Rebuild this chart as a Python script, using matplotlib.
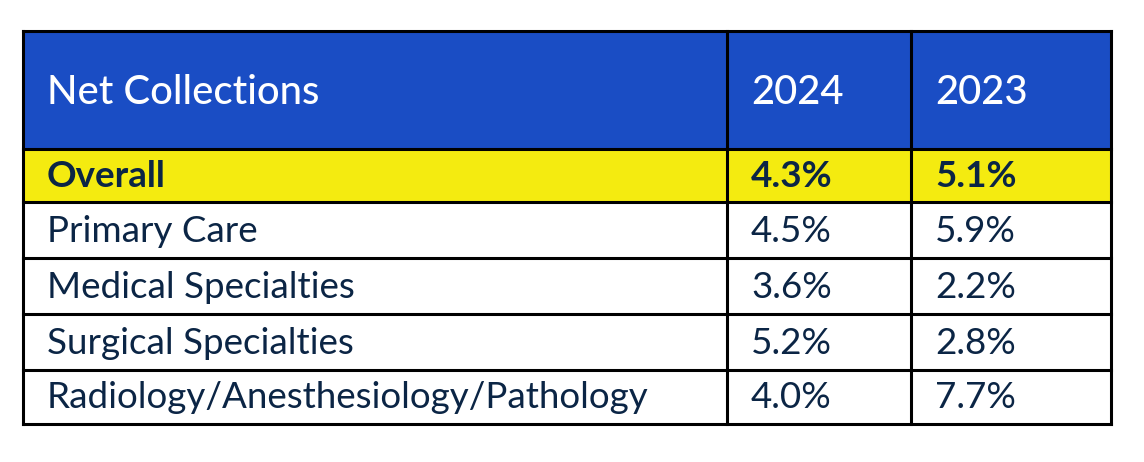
import matplotlib
matplotlib.use("Agg")
import matplotlib.pyplot as plt
from matplotlib.patches import Rectangle

header = ["Net Collections", "2024", "2023"]
categories = ["Overall", "Primary Care", "Medical Specialties", "Surgical Specialties",
              "Radiology/Anesthesiology/Pathology"]
values_2024 = ["4.3%", "4.5%", "3.6%", "5.2%", "4.0%"]
values_2023 = ["5.1%", "5.9%", "2.2%", "2.8%", "7.7%"]

W, H = 1144, 462
fig = plt.figure(figsize=(W / 100, H / 100), dpi=100)
ax = fig.add_axes([0, 0, 1, 1])
ax.set_xlim(0, W)
ax.set_ylim(H, 0)
ax.axis("off")

col_x = [23, 727, 911, 1111]
row_y = [31, 149, 202, 258, 314, 370, 424]
blue = "#1A4DC4"
yellow = "#F4EB10"
navy = "#0B2545"
font = "Lato"

# backgrounds
ax.add_patch(Rectangle((col_x[0], row_y[0]), col_x[-1] - col_x[0], row_y[1] - row_y[0],
                       facecolor=blue, edgecolor="none"))
ax.add_patch(Rectangle((col_x[0], row_y[1]), col_x[-1] - col_x[0], row_y[2] - row_y[1],
                       facecolor=yellow, edgecolor="none"))

# grid lines
for y in row_y:
    ax.plot([col_x[0], col_x[-1]], [y, y], color="black", lw=2.2, solid_capstyle="projecting")
for x in col_x:
    ax.plot([x, x], [row_y[0], row_y[-1]], color="black", lw=2.2, solid_capstyle="projecting")

pad = 24
# header
hy = (row_y[0] + row_y[1]) / 2 + 2
for i, t in enumerate(header):
    ax.text(col_x[i] + pad, hy, t, color="white", fontsize=28.8, family=font,
            fontweight="medium", va="center", ha="left")

rows = list(zip(categories, values_2024, values_2023))
for r, vals in enumerate(rows):
    cy = (row_y[r + 1] + row_y[r + 2]) / 2 + 1
    for c, t in enumerate(vals):
        ax.text(col_x[c] + pad, cy, t, color=navy, fontsize=26.5, family=font,
                fontweight="bold" if r == 0 else "normal", va="center", ha="left")

fig.savefig("out.png", dpi=100, facecolor="white")
